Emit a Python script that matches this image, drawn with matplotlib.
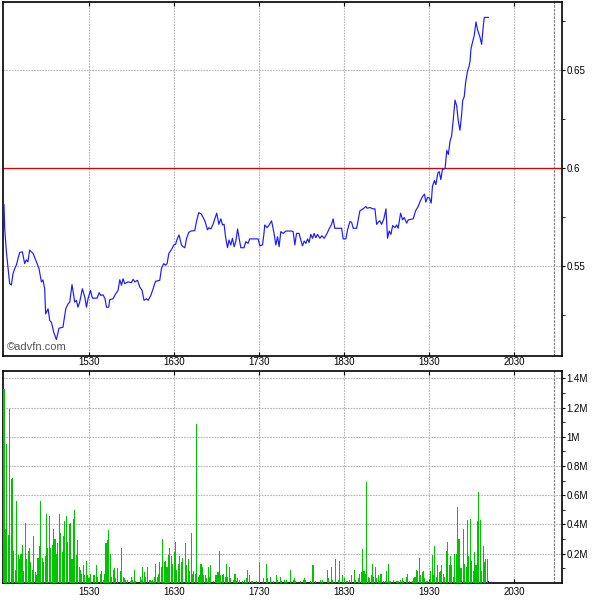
import matplotlib
matplotlib.use("Agg")
import matplotlib.pyplot as plt
from matplotlib.ticker import FixedLocator

plt.rcParams['font.family'] = ['Liberation Sans', 'DejaVu Sans']

# ---- data (minutes after 14:30) ----
price_minutes = [
    0, 0.5, 1.7, 4.0, 5.2, 6.4, 7.6, 8.8, 9.9, 11.1,
    13.0, 14.6, 15.8, 16.9, 18.1, 20.5, 22.9, 24.7, 26.4, 27.5,
    28.7, 29.4, 31.1, 32.3, 33.5, 35.1, 37.0, 38.8, 41.6, 43.6,
    45.2, 46.4, 48.0, 49.9, 51.1, 52.2, 53.4, 55.3, 57.0, 58.2,
    59.3, 61.0, 62.4, 65.7, 67.1, 68.3, 69.9, 71.3, 72.3, 73.9,
    74.6, 76.9, 78.8, 80.5, 81.7, 82.9, 84.0, 85.2, 87.5, 89.9,
    91.1, 92.3, 94.2, 95.8, 97.4, 98.8, 100.5, 101.7, 103.6, 105.2,
    106.9, 109.9, 111.1, 112.7, 113.9, 115.1, 116.3, 118.2, 119.8, 121.0,
    122.4, 123.5, 125.2, 126.4, 127.6, 128.8, 130.4, 131.8, 134.6, 135.8,
    137.4, 139.3, 141.7, 143.6, 144.5, 145.9, 147.5, 148.7, 150.1, 151.6,
    153.0, 154.2, 155.3, 156.3, 157.7, 158.8, 160.0, 161.2, 162.4, 163.6,
    164.8, 165.9, 167.1, 169.4, 170.6, 172.2, 173.4, 179.3, 180.5, 182.4,
    183.3, 184.0, 185.6, 187.1, 188.8, 190.4, 191.8, 193.0, 194.1, 195.3,
    197.0, 198.9, 202.9, 204.0, 205.2, 206.4, 208.2, 209.4, 210.6, 211.8,
    213.0, 214.2, 215.3, 216.5, 217.7, 218.8, 220.0, 221.2, 222.9, 224.3,
    225.9, 227.6, 229.4, 231.1, 232.2, 233.4, 238.2, 239.3, 241.2, 242.4,
    244.0, 245.2, 246.4, 248.8, 249.9, 251.1, 253.4, 255.3, 256.3, 258.2,
    260.1, 261.7, 262.9, 264.0, 265.2, 266.4, 268.0, 269.5, 270.6, 271.8,
    273.0, 274.2, 275.8, 277.0, 278.1, 279.8, 281.2, 282.4, 284.1, 285.2,
    288.7, 290.4, 292.2, 293.6, 295.3, 296.7, 297.6, 298.8, 300.2, 301.4,
    302.3, 303.7, 304.7, 306.1, 307.1, 308.2, 309.3, 311.2, 312.4, 313.5,
    314.7, 315.8, 317.0, 318.2, 319.4, 320.5, 321.7, 322.9, 323.6, 324.7,
    325.7, 327.1, 328.1, 328.8, 329.5, 330.4, 331.8, 333.0, 334.2, 335.8,
    337.0, 338.2, 338.9, 341.7,
]
prices = [
    0.5815, 0.5694, 0.5574, 0.5412, 0.5405, 0.5463, 0.5489, 0.5508, 0.5540, 0.5571,
    0.5574, 0.5514, 0.5533, 0.5523, 0.5583, 0.5566, 0.5523, 0.5489, 0.5421, 0.5431,
    0.5386, 0.5258, 0.5284, 0.5224, 0.5215, 0.5164, 0.5127, 0.5185, 0.5190, 0.5284,
    0.5309, 0.5318, 0.5407, 0.5318, 0.5327, 0.5292, 0.5318, 0.5386, 0.5344, 0.5292,
    0.5335, 0.5378, 0.5338, 0.5338, 0.5366, 0.5352, 0.5355, 0.5335, 0.5292, 0.5292,
    0.5330, 0.5335, 0.5360, 0.5378, 0.5432, 0.5404, 0.5437, 0.5412, 0.5421, 0.5417,
    0.5434, 0.5421, 0.5429, 0.5395, 0.5378, 0.5327, 0.5335, 0.5327, 0.5352, 0.5386,
    0.5424, 0.5429, 0.5489, 0.5514, 0.5506, 0.5514, 0.5566, 0.5586, 0.5609, 0.5612,
    0.5643, 0.5660, 0.5609, 0.5600, 0.5595, 0.5643, 0.5673, 0.5680, 0.5682, 0.5728,
    0.5774, 0.5766, 0.5732, 0.5686, 0.5697, 0.5691, 0.5714, 0.5742, 0.5771, 0.5714,
    0.5742, 0.5711, 0.5714, 0.5651, 0.5595, 0.5634, 0.5609, 0.5643, 0.5600, 0.5629,
    0.5691, 0.5643, 0.5595, 0.5595, 0.5626, 0.5617, 0.5640, 0.5640, 0.5605, 0.5609,
    0.5660, 0.5711, 0.5697, 0.5711, 0.5732, 0.5673, 0.5609, 0.5651, 0.5600, 0.5677,
    0.5668, 0.5680, 0.5680, 0.5677, 0.5609, 0.5668, 0.5668, 0.5634, 0.5605, 0.5629,
    0.5617, 0.5640, 0.5622, 0.5663, 0.5643, 0.5668, 0.5646, 0.5663, 0.5643, 0.5656,
    0.5643, 0.5663, 0.5691, 0.5714, 0.5742, 0.5694, 0.5694, 0.5640, 0.5640, 0.5686,
    0.5728, 0.5725, 0.5694, 0.5694, 0.5737, 0.5783, 0.5793, 0.5805, 0.5796, 0.5800,
    0.5793, 0.5793, 0.5714, 0.5725, 0.5732, 0.5714, 0.5742, 0.5793, 0.5643, 0.5680,
    0.5663, 0.5708, 0.5697, 0.5711, 0.5694, 0.5771, 0.5737, 0.5749, 0.5720, 0.5737,
    0.5742, 0.5783, 0.5805, 0.5831, 0.5856, 0.5868, 0.5827, 0.5851, 0.5848, 0.5822,
    0.5908, 0.5937, 0.5916, 0.5976, 0.5982, 0.5942, 0.5993, 0.5998, 0.6091, 0.6070,
    0.6138, 0.6164, 0.6250, 0.6347, 0.6318, 0.6241, 0.6193, 0.6275, 0.6344, 0.6364,
    0.6437, 0.6497, 0.6518, 0.6545, 0.6609, 0.6637, 0.6677, 0.6745, 0.6703, 0.6668,
    0.6631, 0.6728, 0.6768, 0.6768,
]

vol_minutes = [
    0, 1, 2, 3, 4, 5, 6, 7, 8, 9,
    10, 11, 12, 13, 14, 15, 16, 17, 18, 19,
    20, 21, 22, 23, 24, 25, 26, 27, 28, 29,
    30, 31, 32, 33, 34, 35, 36, 37, 38, 39,
    40, 41, 42, 43, 44, 45, 46, 47, 48, 49,
    50, 51, 52, 53, 54, 55, 56, 57, 58, 59,
    60, 61, 63, 64, 65, 66, 68, 69, 70, 71,
    72, 73, 74, 75, 76, 77, 78, 79, 80, 82,
    83, 84, 85, 86, 87, 89, 90, 91, 92, 93,
    96, 97, 98, 99, 100, 101, 103, 104, 105, 106,
    107, 108, 109, 110, 111, 112, 113, 114, 115, 116,
    117, 118, 119, 120, 121, 122, 123, 124, 125, 126,
    128, 129, 130, 131, 132, 133, 134, 135, 136, 137,
    138, 139, 140, 141, 142, 143, 144, 145, 146, 148,
    149, 150, 151, 152, 153, 154, 155, 156, 157, 158,
    159, 160, 162, 163, 164, 165, 166, 168, 170, 171,
    172, 173, 175, 178, 180, 183, 185, 186, 188, 190,
    192, 193, 195, 196, 198, 199, 202, 204, 205, 206,
    209, 211, 212, 213, 216, 218, 220, 223, 225, 228,
    229, 231, 232, 234, 236, 237, 239, 240, 242, 244,
    245, 247, 248, 250, 251, 252, 253, 254, 255, 256,
    257, 258, 259, 260, 261, 262, 263, 264, 265, 266,
    268, 269, 270, 271, 272, 273, 275, 277, 278, 280,
    281, 282, 284, 285, 286, 288, 289, 290, 291, 292,
    293, 294, 295, 296, 297, 298, 299, 300, 301, 302,
    303, 304, 305, 306, 307, 308, 309, 310, 311, 312,
    313, 314, 315, 316, 317, 318, 319, 320, 321, 322,
    323, 324, 325, 326, 327, 328, 329, 330, 331, 332,
    333, 334, 335, 336, 337, 338, 339, 340, 341,
]
vol_millions = [
    1.33, 0.37, 0.95, 0.33, 1.19, 0.71, 0.72, 0.22, 0.09, 0.56,
    0.19, 0.16, 0.20, 0.26, 0.08, 0.41, 0.16, 0.22, 0.24, 0.14,
    0.09, 0.32, 0.07, 0.05, 0.17, 0.25, 0.56, 0.17, 0.14, 0.18,
    0.47, 0.24, 0.46, 0.24, 0.26, 0.37, 0.30, 0.20, 0.27, 0.47,
    0.34, 0.21, 0.32, 0.42, 0.46, 0.28, 0.40, 0.41, 0.16, 0.44,
    0.50, 0.19, 0.29, 0.11, 0.09, 0.06, 0.12, 0.05, 0.15, 0.05,
    0.03, 0.06, 0.05, 0.05, 0.12, 0.04, 0.06, 0.08, 0.02, 0.06,
    0.27, 0.29, 0.36, 0.20, 0.04, 0.09, 0.10, 0.03, 0.10, 0.08,
    0.24, 0.04, 0.03, 0.02, 0.02, 0.01, 0.04, 0.02, 0.09, 0.01,
    0.04, 0.02, 0.11, 0.07, 0.04, 0.11, 0.02, 0.01, 0.02, 0.04,
    0.13, 0.04, 0.06, 0.14, 0.11, 0.30, 0.14, 0.15, 0.11, 0.19,
    0.24, 0.18, 0.13, 0.21, 0.28, 0.09, 0.13, 0.18, 0.14, 0.17,
    0.27, 0.12, 0.16, 0.08, 0.34, 0.06, 0.08, 0.06, 1.09, 0.04,
    0.05, 0.13, 0.11, 0.05, 0.05, 0.03, 0.11, 0.04, 0.12, 0.01,
    0.05, 0.05, 0.07, 0.22, 0.05, 0.05, 0.06, 0.04, 0.13, 0.04,
    0.11, 0.03, 0.02, 0.06, 0.01, 0.03, 0.02, 0.01, 0.02, 0.03,
    0.09, 0.05, 0.01, 0.01, 0.14, 0.03, 0.13, 0.03, 0.04, 0.01,
    0.05, 0.02, 0.04, 0.01, 0.02, 0.02, 0.09, 0.02, 0.03, 0.01,
    0.01, 0.02, 0.03, 0.02, 0.01, 0.12, 0.01, 0.02, 0.02, 0.09,
    0.03, 0.11, 0.02, 0.16, 0.02, 0.15, 0.05, 0.03, 0.01, 0.02,
    0.05, 0.09, 0.02, 0.03, 0.06, 0.07, 0.23, 0.08, 0.06, 0.69,
    0.04, 0.03, 0.05, 0.13, 0.04, 0.11, 0.03, 0.05, 0.01, 0.06,
    0.01, 0.01, 0.08, 0.13, 0.01, 0.01, 0.02, 0.01, 0.01, 0.02,
    0.03, 0.01, 0.04, 0.06, 0.01, 0.01, 0.03, 0.04, 0.09, 0.08,
    0.17, 0.05, 0.07, 0.08, 0.03, 0.01, 0.01, 0.01, 0.08, 0.19,
    0.05, 0.25, 0.04, 0.12, 0.07, 0.08, 0.12, 0.06, 0.04, 0.22,
    0.28, 0.12, 0.18, 0.12, 0.04, 0.20, 0.20, 0.52, 0.30, 0.10,
    0.10, 0.37, 0.13, 0.11, 0.43, 0.18, 0.44, 0.15, 0.08, 0.21,
    0.12, 0.42, 0.62, 0.43, 0.08, 0.25, 0.14, 0.16, 0.16,
]
last_vol_minute = [342]
last_vol_millions = [0.01]

prev_close = 0.6
session_end_minute = 388
hour_ticks = [60, 120, 180, 240, 300, 360]
hour_labels = ['1530', '1630', '1730', '1830', '1930', '2030']
price_ticks = [0.55, 0.6, 0.65]
price_labels = ['0.55', '0.6', '0.65']
price_minor = [0.525, 0.575, 0.625, 0.675]
vol_ticks = [0.2, 0.4, 0.6, 0.8, 1.0, 1.2, 1.4]
vol_labels = ['0.2M', '0.4M', '0.6M', '0.8M', '1M', '1.2M', '1.4M']
vol_minor = [0.1, 0.3, 0.5, 0.7, 0.9, 1.1, 1.3]

# ---- figure ----
W = H = 600
fig = plt.figure(figsize=(6, 6), dpi=100)
fig.patch.set_facecolor('white')

def box(l, t, r, b):
    return [l / W, 1 - b / H, (r - l) / W, (b - t) / H]

ax1 = fig.add_axes(box(2.7, 2.3, 562.3, 355.7))
ax2 = fig.add_axes(box(2.7, 370.7, 562.3, 582.7))

xlim = (-0.9, 393.9)
grid_kw = dict(color='#b4b4b4', lw=0.8, ls=(0, (1.5, 1)), zorder=1)
fs = 7

for ax in (ax1, ax2):
    ax.set_xlim(*xlim)
    ax.set_xticks(hour_ticks)
    for s in ax.spines.values():
        s.set_linewidth(1.2)
        s.set_color('black')
    for t in hour_ticks:
        ax.axvline(t, **grid_kw)
    ax.axvline(session_end_minute, color='#808080', lw=0.9, ls=(0, (2, 1)), zorder=1)

# price panel
ax1.set_ylim(0.5045, 0.6845)
for v in price_ticks:
    ax1.axhline(v, **grid_kw)
ax1.axhline(prev_close, color='#e00000', lw=0.9, zorder=2)
ax1.plot(price_minutes, prices, color='#1a1aff', lw=0.85, zorder=3)
ax1.yaxis.tick_right()
ax1.set_yticks(price_ticks)
ax1.set_yticklabels(price_labels)
ax1.yaxis.set_minor_locator(FixedLocator(price_minor))
ax1.tick_params(axis='y', which='both', direction='out', length=2, pad=1,
                labelsize=fs, right=True, left=False)
ax1.tick_params(axis='x', which='both', direction='in', length=3,
                top=True, bottom=True, labelbottom=False, labeltop=False)
ax1.text(0.008, 0.024, '\u00a9advfn.com', transform=ax1.transAxes,
         fontsize=8, color='#555555', ha='left', va='center')

# volume panel
ax2.set_ylim(0, 1.453)
for v in vol_ticks:
    ax2.axhline(v, **grid_kw)
ax2.bar(vol_minutes, vol_millions, width=0.75, color='#00c400',
        edgecolor='none', zorder=3, antialiased=False)
ax2.bar(last_vol_minute, last_vol_millions, width=0.75, color='#0000ff',
        edgecolor='none', zorder=3, antialiased=False)
ax2.yaxis.tick_right()
ax2.set_yticks(vol_ticks)
ax2.set_yticklabels(vol_labels)
ax2.yaxis.set_minor_locator(FixedLocator(vol_minor))
ax2.tick_params(axis='y', which='both', direction='out', length=2, pad=1,
                labelsize=fs, right=True, left=False)
ax2.set_xticklabels(hour_labels)
ax2.tick_params(axis='x', which='both', direction='in', length=3, pad=3,
                top=True, bottom=True, labelbottom=True, labeltop=True,
                labelsize=fs)

fig.savefig('out.png', dpi=100, facecolor='white')
